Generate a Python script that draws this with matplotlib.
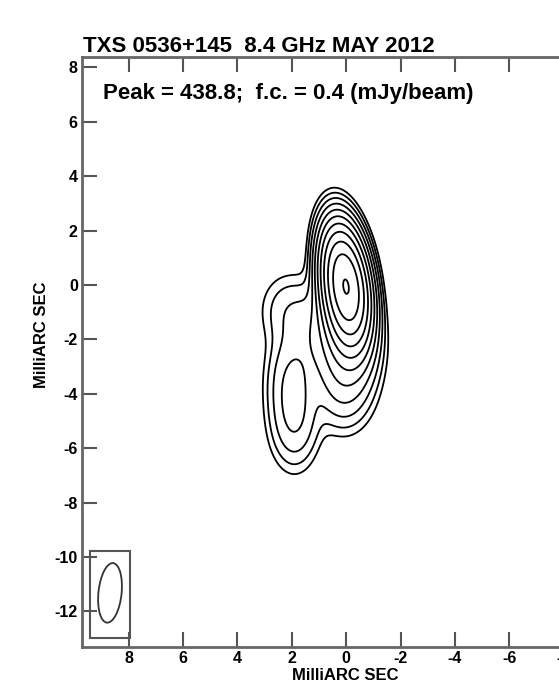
import numpy as np
import matplotlib
matplotlib.use("Agg")
import matplotlib.pyplot as plt
from matplotlib.patches import Ellipse, Rectangle

plt.rcParams['font.family'] = ['Liberation Sans', 'DejaVu Sans']
plt.rcParams['font.weight'] = 'bold'
plt.rcParams['axes.unicode_minus'] = False

# ---- data ----
title = "TXS 0536+145  8.4 GHz MAY 2012"
peak = 438.8
first_contour = 0.4
n_levels = 11
levels = [first_contour * 2 ** k for k in range(n_levels)]

# model components estimated from the map (mas, mJy/beam, mas, mas, deg)
comp_x = [0.0, 0.1, 0.0, 0.1, 2.0, 1.9, 2.2, 1.2]
comp_y = [0.0, -1.0, -2.3, -3.8, -3.5, -5.0, -0.9, -1.7]
comp_amp = [400.0, 45.0, 8.0, 2.5, 3.0, 3.0, 1.0, 2.0]
comp_smaj = [0.97, 0.97, 1.0, 0.9, 0.97, 0.97, 0.8, 1.0]
comp_smin = [0.37, 0.40, 0.6, 0.6, 0.5, 0.5, 0.6, 0.7]
comp_pa = [8, 8, 0, 0, 0, 0, 0, 0]

beam_x, beam_y = 8.68, -11.32
beam_maj, beam_min, beam_pa = 2.2, 0.85, 6
box_x = [9.41, 7.93]
box_y = [-12.98, -9.78]

xticks = [8, 6, 4, 2, 0, -2, -4, -6, -8, -10]
yticks = [8, 6, 4, 2, 0, -2, -4, -6, -8, -10, -12]

# ---- model image ----
gx = np.linspace(-4, 6, 501)
gy = np.linspace(-10, 7, 851)
X, Y = np.meshgrid(gx, gy)
Z = np.zeros_like(X)
for x0, y0, a, smj, smn, pa in zip(comp_x, comp_y, comp_amp, comp_smaj, comp_smin, comp_pa):
    t = np.deg2rad(pa)
    dx, dy = X - x0, Y - y0
    u = dx * np.sin(t) + dy * np.cos(t)
    v = dx * np.cos(t) - dy * np.sin(t)
    Z += a * np.exp(-u ** 2 / (2 * smj ** 2) - v ** 2 / (2 * smn ** 2))

W, H = 559, 687
fig = plt.figure(figsize=(W / 100, H / 100), dpi=100)
ax_left, ax_right, ax_top, ax_bot = 82, 626, 57, 647
ax = fig.add_axes([ax_left / W, 1 - ax_bot / H, (ax_right - ax_left) / W, (ax_bot - ax_top) / H])
ax.contour(X, Y, Z, levels=levels, colors='black', linewidths=1.3)

ax.set_xlim(9.71, -10.29)
ax.set_ylim(-13.31, 8.38)
ax.set_xticks(xticks)
ax.set_yticks(yticks)
ax.tick_params(direction='in', length=11, width=1.5, color='#555555', labelsize=11.5,
               top=True, right=True, pad=3)
for lab in ax.get_xticklabels() + ax.get_yticklabels():
    lab.set_fontweight('bold')
for s in ax.spines.values():
    s.set_linewidth(2)
    s.set_color('#666666')

ax.add_patch(Rectangle((box_x[1], box_y[0]), box_x[0] - box_x[1], box_y[1] - box_y[0],
                       fill=False, edgecolor='#555555', lw=1.5))
ax.add_patch(Ellipse((beam_x, beam_y), beam_min, beam_maj, angle=beam_pa,
                     fill=False, edgecolor='#333333', lw=1.3))

fig.text(83 / W, 1 - 52 / H, title, fontsize=16, fontweight='bold', ha='left', va='baseline')
fig.text(103 / W, 1 - 99 / H, f"Peak = {peak};  f.c. = {first_contour} (mJy/beam)",
         fontsize=16, fontweight='bold', ha='left', va='baseline')
fig.text(345 / W, 1 - 675 / H, "MilliARC SEC", fontsize=12, fontweight='bold', ha='center', va='center')
fig.text(42 / W, 1 - 335 / H, "MilliARC SEC", fontsize=12, fontweight='bold', ha='center', va='center',
         rotation=90)

fig.savefig("out.png", dpi=100)
